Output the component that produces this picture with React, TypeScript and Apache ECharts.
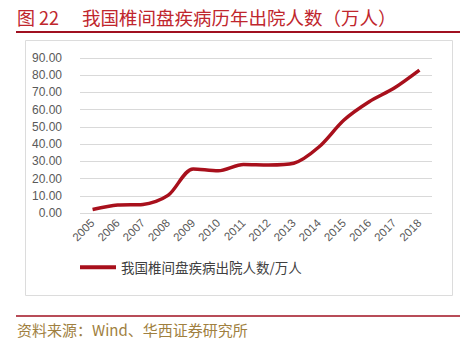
import React, { useEffect, useRef } from "react";
import * as echarts from "echarts";

const years = ["2005","2006","2007","2008","2009","2010","2011","2012","2013","2014","2015","2016","2017","2018"];
const patients = [2.0, 4.6, 5.0, 10.2, 25.6, 24.5, 28.2, 27.9, 28.9, 38.3, 54.0, 64.6, 72.6, 83.0];
const seriesName = "我国椎间盘疾病出院人数/万人";
const titleNo = "图 22";
const titleText = "我国椎间盘疾病历年出院人数（万人）";
const sourceText = "资料来源：Wind、华西证券研究所";

export default function App() {
  const ref = useRef<HTMLDivElement>(null);
  useEffect(() => {
    const chart = echarts.init(ref.current!, null, { renderer: "svg" });
    chart.setOption({
      animation: false,
      backgroundColor: "#ffffff",
      grid: { left: 80, right: 40, top: 58, bottom: 138 },
      xAxis: {
        type: "category",
        data: years,
        boundaryGap: true,
        axisLine: { show: false },
        axisTick: { show: false },
        axisLabel: { rotate: 45, color: "#595959", fontSize: 11.5, margin: 8, fontFamily: "Liberation Sans" },
      },
      yAxis: {
        type: "value",
        min: 0,
        max: 90,
        interval: 10,
        axisLine: { show: false },
        axisTick: { show: false },
        axisLabel: {
          color: "#595959",
          fontSize: 12,
          margin: 18,
          fontFamily: "Liberation Sans",
          formatter: (v: number) => v.toFixed(2),
        },
        splitLine: { lineStyle: { color: "#d9d9d9", width: 1 } },
      },
      legend: {
        data: [seriesName],
        bottom: 72,
        left: 75,
        itemWidth: 36,
        itemHeight: 4,
        itemGap: 8,
        icon: "rect",
        textStyle: { fontSize: 13.5, color: "#404040", fontFamily: "Noto Sans CJK SC" },
      },
      series: [
        {
          name: seriesName,
          type: "line",
          data: patients,
          smooth: 0.3,
          showSymbol: false,
          symbol: "none",
          lineStyle: { color: "#a8101c", width: 3.5 },
          itemStyle: { color: "#a8101c" },
        },
      ],
      graphic: [
        {
          type: "text",
          left: 17,
          top: 8,
          style: { text: titleNo, fill: "#c0262d", font: "18px 'Noto Sans CJK SC'" },
        },
        {
          type: "text",
          left: 82,
          top: 8,
          style: { text: titleText, fill: "#c0262d", font: "18.5px 'Noto Sans CJK SC'" },
        },
        {
          type: "line",
          shape: { x1: 16, y1: 32, x2: 460, y2: 32 },
          style: { stroke: "#a01020", lineWidth: 2 },
        },
        {
          type: "rect",
          shape: { x: 25.5, y: 40.5, width: 427, height: 255 },
          style: { fill: "none", stroke: "#dcdcdc", lineWidth: 1 },
          z: -1,
        },
        {
          type: "line",
          shape: { x1: 16, y1: 316, x2: 460, y2: 316 },
          style: { stroke: "#a01020", lineWidth: 1.5 },
        },
        {
          type: "text",
          left: 17,
          top: 322,
          style: { text: sourceText, fill: "#a08040", font: "15px 'Noto Sans CJK SC'" },
        },
      ],
    });
    return () => chart.dispose();
  }, []);
  return <div ref={ref} style={{ width: 472, height: 351, position: "absolute", left: 0, top: 0 }} />;
}
